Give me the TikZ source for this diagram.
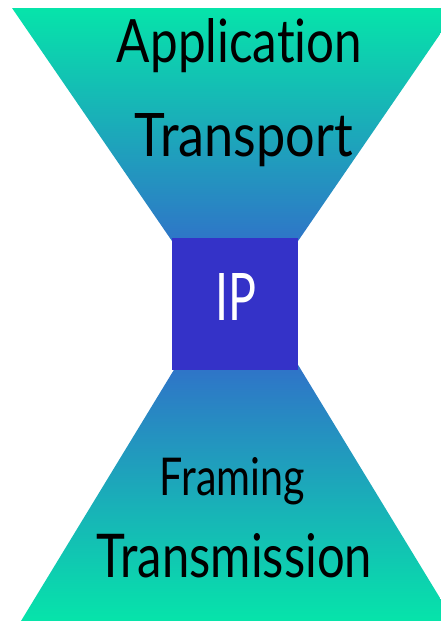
\documentclass[tikz,border=0pt]{standalone}
\usepackage{fontspec}
\usepackage{graphicx}
\setmainfont[Ligatures={NoCommon}]{Lato}
\definecolor{hgreen}{RGB}{6,228,170}
\definecolor{hblue}{RGB}{50,108,202}
\definecolor{ipblue}{RGB}{52,50,200}
\tikzset{
  label/.style={anchor=base, inner sep=0pt, text=black},
  iplabel/.style={anchor=base, inner sep=0pt, text=white},
  ipbox/.style={fill=ipblue, draw=none, minimum width=126pt, minimum height=132pt, inner sep=0pt}
}
\begin{document}
\begin{tikzpicture}[x=1pt,y=-1pt]
\useasboundingbox (0,0) rectangle (441,621);
\clip (0,0) rectangle (441,621);
% top funnel
\shade[top color=hgreen, bottom color=hblue] (12,8) -- (458,8) -- (285,260) -- (185,260) -- cycle;
% bottom funnel
\shade[top color=hblue, bottom color=hgreen] (186,350) -- (289,350) -- (454,621) -- (21,621) -- cycle;
% IP box
\node[ipbox] (ip) at (235,304) {};
\node[iplabel] (iptext) at (235.5,320) {\resizebox{41pt}{47pt}{IP}};
\node[label] (app) at (239.5,62) {\resizebox{245pt}{44pt}{Application}};
\node[label] (trans) at (244,156) {\resizebox{218pt}{43pt}{Transport}};
\node[label] (fram) at (232.5,495) {\resizebox{145pt}{38pt}{Framing}};
\node[label] (tx) at (234.5,577) {\resizebox{275pt}{44pt}{Transmission}};
\end{tikzpicture}
\end{document}
